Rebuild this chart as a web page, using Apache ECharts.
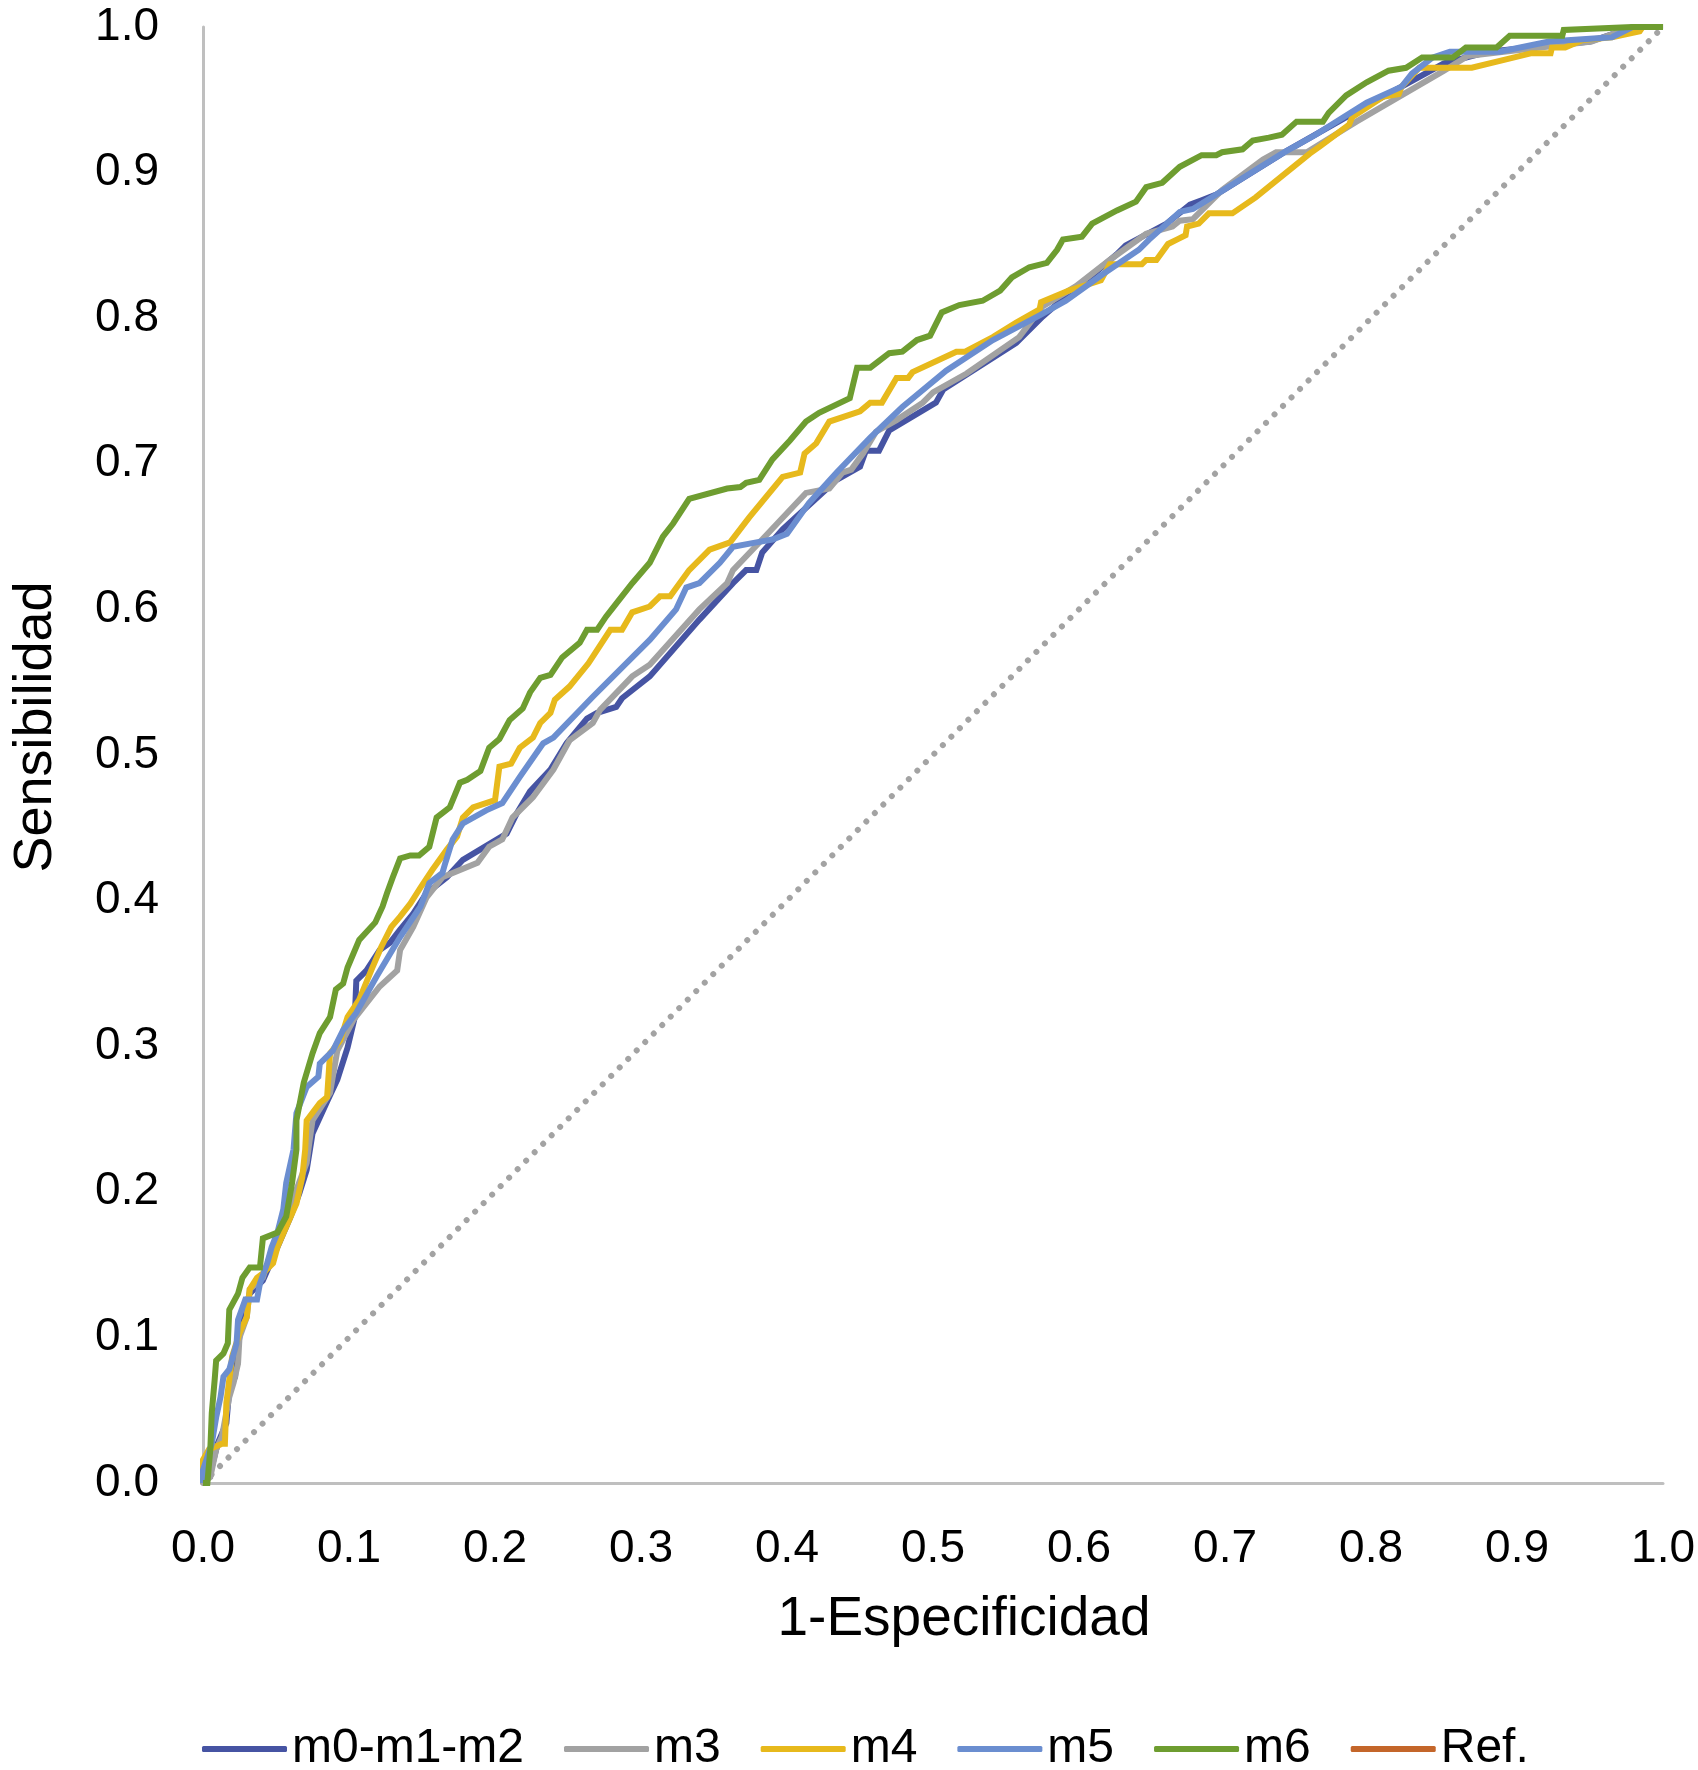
<!DOCTYPE html>
<html>
<head>
<meta charset="utf-8">
<script src="https://cdn.jsdelivr.net/npm/echarts@6/dist/echarts.min.js"></script>
<style>
html,body{margin:0;padding:0;background:#fff;}
#chart{width:1698px;height:1770px;}
</style>
</head>
<body>
<div id="chart"></div>
<script>
const seriesNames = ['m0-m1-m2', 'm3', 'm4', 'm5', 'm6', 'Ref.'];
const xTicks = [0, 0.1, 0.2, 0.3, 0.4, 0.5, 0.6, 0.7, 0.8, 0.9, 1.0];

const m0m1m2 = [[0,0],[0.001,0],[0.006,0.011],[0.010,0.027],[0.016,0.041],[0.018,0.064],[0.022,0.073],[0.023,0.087],[0.027,0.114],[0.032,0.130],[0.041,0.139],[0.051,0.162],[0.060,0.183],[0.066,0.199],[0.071,0.215],[0.075,0.240],[0.085,0.262],[0.092,0.277],[0.099,0.299],[0.104,0.320],[0.105,0.345],[0.112,0.352],[0.121,0.366],[0.128,0.371],[0.135,0.380],[0.144,0.391],[0.153,0.405],[0.167,0.416],[0.178,0.428],[0.198,0.440],[0.208,0.446],[0.215,0.460],[0.224,0.475],[0.238,0.490],[0.249,0.508],[0.263,0.525],[0.270,0.529],[0.283,0.533],[0.287,0.539],[0.306,0.554],[0.340,0.593],[0.363,0.618],[0.372,0.627],[0.379,0.627],[0.383,0.639],[0.397,0.655],[0.434,0.689],[0.450,0.698],[0.454,0.709],[0.463,0.709],[0.470,0.723],[0.502,0.742],[0.507,0.751],[0.557,0.783],[0.575,0.801],[0.591,0.815],[0.605,0.826],[0.626,0.844],[0.632,0.850],[0.660,0.865],[0.676,0.878],[0.684,0.881],[0.694,0.885],[0.739,0.913],[0.790,0.942],[0.850,0.975],[0.880,0.983],[0.950,0.990],[0.980,1.0],[1,1]];

const m3 = [[0,0],[0.001,0],[0.005,0.004],[0.009,0.023],[0.013,0.032],[0.018,0.059],[0.021,0.069],[0.024,0.082],[0.025,0.100],[0.030,0.114],[0.032,0.133],[0.041,0.141],[0.051,0.172],[0.060,0.190],[0.062,0.196],[0.071,0.220],[0.073,0.235],[0.075,0.249],[0.087,0.268],[0.092,0.297],[0.103,0.318],[0.121,0.341],[0.133,0.352],[0.135,0.366],[0.144,0.382],[0.153,0.402],[0.164,0.416],[0.188,0.426],[0.196,0.437],[0.205,0.442],[0.212,0.457],[0.226,0.471],[0.240,0.490],[0.251,0.510],[0.267,0.522],[0.272,0.531],[0.294,0.554],[0.306,0.562],[0.340,0.600],[0.359,0.618],[0.363,0.627],[0.383,0.648],[0.413,0.680],[0.429,0.683],[0.438,0.694],[0.444,0.696],[0.452,0.707],[0.461,0.722],[0.475,0.730],[0.493,0.742],[0.500,0.749],[0.523,0.762],[0.559,0.787],[0.575,0.808],[0.598,0.822],[0.621,0.840],[0.646,0.858],[0.664,0.863],[0.669,0.867],[0.678,0.868],[0.698,0.888],[0.726,0.909],[0.735,0.914],[0.756,0.914],[0.790,0.935],[0.850,0.970],[0.866,0.980],[0.951,0.990],[0.979,1.0],[1,1]];

const m4 = [[0,0],[0,0.016],[0.004,0.023],[0.013,0.027],[0.015,0.027],[0.016,0.055],[0.020,0.087],[0.025,0.103],[0.030,0.114],[0.032,0.133],[0.037,0.141],[0.041,0.144],[0.048,0.151],[0.051,0.162],[0.057,0.176],[0.064,0.192],[0.068,0.210],[0.070,0.229],[0.071,0.249],[0.080,0.261],[0.085,0.265],[0.087,0.295],[0.094,0.304],[0.099,0.320],[0.107,0.332],[0.116,0.354],[0.122,0.368],[0.129,0.382],[0.135,0.389],[0.142,0.398],[0.149,0.409],[0.157,0.421],[0.167,0.435],[0.174,0.444],[0.178,0.457],[0.185,0.464],[0.200,0.469],[0.203,0.492],[0.211,0.494],[0.217,0.505],[0.226,0.512],[0.231,0.522],[0.238,0.529],[0.241,0.538],[0.251,0.547],[0.264,0.563],[0.279,0.586],[0.287,0.586],[0.294,0.598],[0.306,0.602],[0.313,0.609],[0.320,0.609],[0.333,0.627],[0.347,0.641],[0.361,0.646],[0.374,0.663],[0.397,0.691],[0.409,0.694],[0.412,0.707],[0.420,0.714],[0.429,0.729],[0.450,0.736],[0.457,0.742],[0.465,0.742],[0.475,0.759],[0.483,0.759],[0.486,0.763],[0.516,0.777],[0.522,0.777],[0.541,0.787],[0.557,0.797],[0.573,0.806],[0.574,0.811],[0.593,0.819],[0.615,0.826],[0.621,0.837],[0.643,0.837],[0.646,0.840],[0.653,0.840],[0.661,0.851],[0.667,0.854],[0.673,0.857],[0.674,0.863],[0.682,0.865],[0.689,0.872],[0.705,0.872],[0.721,0.883],[0.758,0.913],[0.765,0.918],[0.785,0.933],[0.787,0.938],[0.808,0.952],[0.819,0.954],[0.821,0.959],[0.833,0.972],[0.869,0.972],[0.910,0.982],[0.923,0.982],[0.924,0.986],[0.933,0.986],[0.945,0.991],[0.965,0.993],[0.984,0.997],[0.986,1.0],[1,1]];

const m5 = [[0,0],[0,0.009],[0.006,0.027],[0.009,0.045],[0.012,0.059],[0.014,0.073],[0.018,0.078],[0.023,0.096],[0.024,0.112],[0.029,0.126],[0.037,0.126],[0.039,0.137],[0.044,0.151],[0.047,0.162],[0.051,0.172],[0.055,0.188],[0.057,0.206],[0.062,0.229],[0.064,0.254],[0.071,0.272],[0.079,0.279],[0.080,0.288],[0.089,0.297],[0.096,0.311],[0.105,0.323],[0.119,0.348],[0.135,0.375],[0.149,0.396],[0.155,0.412],[0.164,0.419],[0.166,0.426],[0.171,0.442],[0.178,0.453],[0.194,0.462],[0.205,0.467],[0.217,0.485],[0.233,0.508],[0.240,0.512],[0.267,0.540],[0.294,0.567],[0.306,0.579],[0.324,0.600],[0.331,0.615],[0.340,0.618],[0.354,0.632],[0.363,0.643],[0.379,0.646],[0.390,0.648],[0.400,0.652],[0.415,0.673],[0.434,0.694],[0.457,0.718],[0.479,0.739],[0.509,0.764],[0.541,0.785],[0.573,0.802],[0.591,0.812],[0.616,0.830],[0.641,0.847],[0.648,0.854],[0.669,0.873],[0.678,0.875],[0.694,0.885],[0.739,0.913],[0.762,0.926],[0.797,0.948],[0.821,0.959],[0.828,0.968],[0.842,0.979],[0.854,0.983],[0.888,0.983],[0.922,0.990],[0.965,0.993],[0.979,1.0],[1,1]];

const m6 = [[0,0],[0.003,0.0],[0.005,0.023],[0.006,0.048],[0.008,0.071],[0.009,0.084],[0.014,0.089],[0.017,0.096],[0.018,0.119],[0.024,0.130],[0.027,0.141],[0.032,0.148],[0.039,0.148],[0.041,0.168],[0.051,0.172],[0.057,0.183],[0.061,0.206],[0.064,0.229],[0.064,0.249],[0.069,0.275],[0.075,0.295],[0.080,0.309],[0.087,0.320],[0.091,0.339],[0.096,0.343],[0.099,0.354],[0.107,0.373],[0.118,0.385],[0.123,0.396],[0.126,0.405],[0.130,0.416],[0.135,0.429],[0.142,0.431],[0.148,0.431],[0.155,0.437],[0.160,0.457],[0.169,0.464],[0.176,0.481],[0.181,0.483],[0.190,0.489],[0.196,0.505],[0.203,0.511],[0.210,0.524],[0.219,0.532],[0.224,0.543],[0.231,0.553],[0.238,0.555],[0.246,0.567],[0.258,0.577],[0.263,0.586],[0.270,0.586],[0.276,0.595],[0.283,0.604],[0.294,0.618],[0.306,0.632],[0.315,0.650],[0.322,0.659],[0.333,0.676],[0.359,0.683],[0.368,0.684],[0.372,0.687],[0.381,0.689],[0.390,0.703],[0.402,0.716],[0.413,0.729],[0.422,0.735],[0.443,0.745],[0.448,0.766],[0.457,0.766],[0.470,0.776],[0.479,0.777],[0.489,0.785],[0.498,0.788],[0.506,0.804],[0.518,0.809],[0.534,0.812],[0.546,0.819],[0.554,0.828],[0.566,0.835],[0.578,0.838],[0.585,0.847],[0.589,0.854],[0.602,0.856],[0.609,0.865],[0.626,0.874],[0.639,0.880],[0.646,0.890],[0.657,0.893],[0.669,0.904],[0.684,0.912],[0.694,0.912],[0.698,0.914],[0.712,0.916],[0.719,0.922],[0.730,0.924],[0.739,0.926],[0.749,0.935],[0.767,0.935],[0.771,0.941],[0.783,0.953],[0.797,0.962],[0.812,0.970],[0.824,0.972],[0.835,0.979],[0.856,0.979],[0.865,0.986],[0.886,0.986],[0.895,0.994],[0.931,0.994],[0.932,0.998],[0.979,1.0],[1,1]];

const ref = [[0,0],[1,1]];

const colors = ['#4654A3', '#A2A2A2', '#E7B91C', '#6B8ED0', '#6E9D30', '#C4662A'];
const FONT = '"Liberation Sans", Arial, Helvetica, sans-serif';

const chart = echarts.init(document.getElementById('chart'), null, {renderer: 'canvas'});

const dataSets = [m0m1m2, m3, m4, m5, m6];
const series = dataSets.map((d, i) => ({
  name: seriesNames[i],
  type: 'line',
  data: d,
  symbol: 'none',
  showSymbol: false,
  lineStyle: {color: colors[i], width: 6, join: 'miter'},
  itemStyle: {color: colors[i]},
  z: 3 + i
}));
series.unshift({
  name: seriesNames[5],
  type: 'line',
  data: ref,
  symbol: 'none',
  showSymbol: false,
  lineStyle: {color: '#A3A3A3', width: 6, type: [0.01, 12], cap: 'round'},
  itemStyle: {color: colors[5]},
  z: 2
});

chart.setOption({
  animation: false,
  backgroundColor: '#ffffff',
  textStyle: {fontFamily: FONT},
  grid: {left: 203, right: 34, top: 27, bottom: 287, containLabel: false},
  legend: {
    left: 197,
    top: 1720,
    icon: 'roundRect',
    itemWidth: 85,
    itemHeight: 6,
    itemGap: 40,
    textStyle: {fontSize: 48, color: '#000', fontFamily: FONT},
    data: seriesNames.map((n, i) => ({name: n, itemStyle: {color: colors[i]}}))
  },
  xAxis: {
    type: 'value',
    min: 0, max: 1, interval: 0.1,
    name: '1-Especificidad',
    nameLocation: 'middle',
    nameGap: 109,
    nameTextStyle: {fontSize: 55, color: '#000', fontFamily: FONT, padding: [0, 0, 0, 62]},
    axisLine: {show: true, onZero: false, lineStyle: {color: '#BFBFBF', width: 3}},
    axisTick: {show: false},
    splitLine: {show: false},
    axisLabel: {fontSize: 46, color: '#000', margin: 43, fontFamily: FONT,
      formatter: v => xTicks.some(t => Math.abs(t - v) < 1e-9) ? v.toFixed(1) : ''}
  },
  yAxis: {
    type: 'value',
    min: 0, max: 1, interval: 0.1,
    name: 'Sensibilidad',
    nameLocation: 'middle',
    nameGap: 140,
    nameTextStyle: {fontSize: 54, color: '#000', fontFamily: FONT, padding: [0, 0, 0, 56]},
    axisLine: {show: true, onZero: false, lineStyle: {color: '#BFBFBF', width: 3}},
    axisTick: {show: false},
    splitLine: {show: false},
    axisLabel: {fontSize: 46, color: '#000', margin: 44, fontFamily: FONT,
      formatter: v => v.toFixed(1)}
  },
  series: series
});
</script>
</body>
</html>
